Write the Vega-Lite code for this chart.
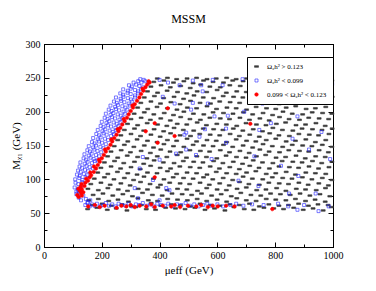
{
"$schema":"https://vega.github.io/schema/vega-lite/v6.json",
"width":289,"height":203,"autosize":"none",
"padding":{"left":44,"top":44,"right":43,"bottom":44},
"background":"white",
"title":{"text":"MSSM","font":"Liberation Serif","fontSize":12,"fontWeight":"normal","color":"black","offset":13},
"data":{"values":[
{"x":151,"y":56,"c":"A"},{"x":183,"y":58,"c":"A"},{"x":219,"y":55,"c":"A"},{"x":250,"y":57,"c":"A"},{"x":287,"y":54,"c":"A"},{"x":318,"y":59,"c":"A"},{"x":354,"y":56,"c":"A"},{"x":386,"y":55,"c":"A"},{"x":421,"y":58,"c":"A"},{"x":455,"y":57,"c":"A"},{"x":488,"y":56,"c":"A"},{"x":522,"y":58,"c":"A"},{"x":557,"y":55,"c":"A"},{"x":590,"y":57,"c":"A"},{"x":626,"y":54,"c":"A"},{"x":657,"y":59,"c":"A"},{"x":693,"y":56,"c":"A"},{"x":726,"y":55,"c":"A"},{"x":761,"y":58,"c":"A"},{"x":795,"y":57,"c":"A"},{"x":829,"y":56,"c":"A"},{"x":864,"y":58,"c":"A"},{"x":897,"y":55,"c":"A"},{"x":931,"y":57,"c":"A"},{"x":966,"y":54,"c":"A"},{"x":994,"y":59,"c":"A"},
{"x":166,"y":62,"c":"A"},{"x":201,"y":64,"c":"A"},{"x":233,"y":61,"c":"A"},{"x":270,"y":63,"c":"A"},{"x":302,"y":60,"c":"A"},{"x":337,"y":62,"c":"A"},{"x":371,"y":65,"c":"A"},{"x":404,"y":61,"c":"A"},{"x":440,"y":63,"c":"A"},{"x":472,"y":62,"c":"A"},{"x":507,"y":60,"c":"A"},{"x":540,"y":64,"c":"A"},{"x":575,"y":62,"c":"A"},{"x":609,"y":61,"c":"A"},{"x":643,"y":63,"c":"A"},{"x":676,"y":62,"c":"A"},{"x":711,"y":64,"c":"A"},{"x":745,"y":60,"c":"A"},{"x":778,"y":63,"c":"A"},{"x":813,"y":61,"c":"A"},{"x":846,"y":62,"c":"A"},{"x":881,"y":64,"c":"A"},{"x":915,"y":61,"c":"A"},{"x":948,"y":63,"c":"A"},{"x":983,"y":62,"c":"A"},
{"x":155,"y":69,"c":"A"},{"x":188,"y":71,"c":"A"},{"x":224,"y":68,"c":"A"},{"x":256,"y":70,"c":"A"},{"x":292,"y":67,"c":"A"},{"x":325,"y":72,"c":"A"},{"x":361,"y":69,"c":"A"},{"x":393,"y":68,"c":"A"},{"x":428,"y":71,"c":"A"},{"x":462,"y":70,"c":"A"},{"x":496,"y":69,"c":"A"},{"x":530,"y":71,"c":"A"},{"x":563,"y":68,"c":"A"},{"x":599,"y":70,"c":"A"},{"x":632,"y":67,"c":"A"},{"x":667,"y":72,"c":"A"},{"x":700,"y":69,"c":"A"},{"x":734,"y":68,"c":"A"},{"x":769,"y":71,"c":"A"},{"x":802,"y":70,"c":"A"},{"x":837,"y":69,"c":"A"},{"x":870,"y":71,"c":"A"},{"x":905,"y":68,"c":"A"},{"x":938,"y":70,"c":"A"},{"x":973,"y":67,"c":"A"},
{"x":170,"y":77,"c":"A"},{"x":204,"y":79,"c":"A"},{"x":238,"y":76,"c":"A"},{"x":273,"y":78,"c":"A"},{"x":306,"y":75,"c":"A"},{"x":341,"y":80,"c":"A"},{"x":375,"y":77,"c":"A"},{"x":409,"y":76,"c":"A"},{"x":443,"y":79,"c":"A"},{"x":478,"y":78,"c":"A"},{"x":511,"y":77,"c":"A"},{"x":545,"y":79,"c":"A"},{"x":580,"y":76,"c":"A"},{"x":613,"y":78,"c":"A"},{"x":648,"y":75,"c":"A"},{"x":681,"y":80,"c":"A"},{"x":716,"y":77,"c":"A"},{"x":750,"y":76,"c":"A"},{"x":784,"y":79,"c":"A"},{"x":818,"y":78,"c":"A"},{"x":852,"y":77,"c":"A"},{"x":886,"y":79,"c":"A"},{"x":920,"y":76,"c":"A"},{"x":955,"y":78,"c":"A"},{"x":989,"y":75,"c":"A"},
{"x":152,"y":86,"c":"A"},{"x":188,"y":84,"c":"A"},{"x":221,"y":87,"c":"A"},{"x":257,"y":85,"c":"A"},{"x":289,"y":83,"c":"A"},{"x":326,"y":86,"c":"A"},{"x":358,"y":85,"c":"A"},{"x":394,"y":88,"c":"A"},{"x":426,"y":84,"c":"A"},{"x":462,"y":86,"c":"A"},{"x":494,"y":85,"c":"A"},{"x":531,"y":83,"c":"A"},{"x":563,"y":87,"c":"A"},{"x":599,"y":85,"c":"A"},{"x":631,"y":84,"c":"A"},{"x":668,"y":86,"c":"A"},{"x":700,"y":88,"c":"A"},{"x":736,"y":84,"c":"A"},{"x":768,"y":85,"c":"A"},{"x":805,"y":87,"c":"A"},{"x":837,"y":83,"c":"A"},{"x":873,"y":86,"c":"A"},{"x":905,"y":85,"c":"A"},{"x":942,"y":84,"c":"A"},{"x":974,"y":87,"c":"A"},
{"x":162,"y":93,"c":"A"},{"x":197,"y":95,"c":"A"},{"x":229,"y":92,"c":"A"},{"x":266,"y":94,"c":"A"},{"x":298,"y":91,"c":"A"},{"x":334,"y":96,"c":"A"},{"x":367,"y":93,"c":"A"},{"x":403,"y":92,"c":"A"},{"x":435,"y":95,"c":"A"},{"x":471,"y":94,"c":"A"},{"x":504,"y":93,"c":"A"},{"x":540,"y":95,"c":"A"},{"x":572,"y":92,"c":"A"},{"x":608,"y":94,"c":"A"},{"x":641,"y":91,"c":"A"},{"x":677,"y":96,"c":"A"},{"x":709,"y":93,"c":"A"},{"x":745,"y":92,"c":"A"},{"x":778,"y":95,"c":"A"},{"x":814,"y":94,"c":"A"},{"x":846,"y":93,"c":"A"},{"x":882,"y":95,"c":"A"},{"x":914,"y":92,"c":"A"},{"x":951,"y":94,"c":"A"},{"x":984,"y":91,"c":"A"},
{"x":174,"y":101,"c":"A"},{"x":209,"y":103,"c":"A"},{"x":242,"y":100,"c":"A"},{"x":278,"y":102,"c":"A"},{"x":310,"y":99,"c":"A"},{"x":346,"y":104,"c":"A"},{"x":379,"y":101,"c":"A"},{"x":415,"y":100,"c":"A"},{"x":447,"y":103,"c":"A"},{"x":483,"y":102,"c":"A"},{"x":516,"y":101,"c":"A"},{"x":552,"y":103,"c":"A"},{"x":584,"y":100,"c":"A"},{"x":620,"y":102,"c":"A"},{"x":653,"y":99,"c":"A"},{"x":689,"y":104,"c":"A"},{"x":721,"y":101,"c":"A"},{"x":757,"y":100,"c":"A"},{"x":790,"y":103,"c":"A"},{"x":826,"y":102,"c":"A"},{"x":858,"y":101,"c":"A"},{"x":894,"y":103,"c":"A"},{"x":927,"y":100,"c":"A"},{"x":963,"y":102,"c":"A"},{"x":996,"y":99,"c":"A"},
{"x":186,"y":110,"c":"A"},{"x":221,"y":108,"c":"A"},{"x":254,"y":111,"c":"A"},{"x":290,"y":109,"c":"A"},{"x":322,"y":107,"c":"A"},{"x":358,"y":110,"c":"A"},{"x":391,"y":109,"c":"A"},{"x":427,"y":112,"c":"A"},{"x":459,"y":108,"c":"A"},{"x":495,"y":110,"c":"A"},{"x":528,"y":109,"c":"A"},{"x":564,"y":107,"c":"A"},{"x":596,"y":111,"c":"A"},{"x":632,"y":109,"c":"A"},{"x":665,"y":108,"c":"A"},{"x":701,"y":110,"c":"A"},{"x":733,"y":112,"c":"A"},{"x":769,"y":108,"c":"A"},{"x":802,"y":109,"c":"A"},{"x":838,"y":111,"c":"A"},{"x":870,"y":107,"c":"A"},{"x":906,"y":110,"c":"A"},{"x":939,"y":109,"c":"A"},{"x":975,"y":108,"c":"A"},
{"x":197,"y":117,"c":"A"},{"x":232,"y":119,"c":"A"},{"x":265,"y":116,"c":"A"},{"x":301,"y":118,"c":"A"},{"x":333,"y":115,"c":"A"},{"x":369,"y":120,"c":"A"},{"x":402,"y":117,"c":"A"},{"x":438,"y":116,"c":"A"},{"x":470,"y":119,"c":"A"},{"x":506,"y":118,"c":"A"},{"x":539,"y":117,"c":"A"},{"x":575,"y":119,"c":"A"},{"x":607,"y":116,"c":"A"},{"x":643,"y":118,"c":"A"},{"x":676,"y":115,"c":"A"},{"x":712,"y":120,"c":"A"},{"x":744,"y":117,"c":"A"},{"x":780,"y":116,"c":"A"},{"x":813,"y":119,"c":"A"},{"x":849,"y":118,"c":"A"},{"x":881,"y":117,"c":"A"},{"x":917,"y":119,"c":"A"},{"x":950,"y":116,"c":"A"},{"x":986,"y":118,"c":"A"},
{"x":209,"y":125,"c":"A"},{"x":244,"y":127,"c":"A"},{"x":276,"y":124,"c":"A"},{"x":313,"y":126,"c":"A"},{"x":345,"y":123,"c":"A"},{"x":381,"y":128,"c":"A"},{"x":413,"y":125,"c":"A"},{"x":450,"y":124,"c":"A"},{"x":482,"y":127,"c":"A"},{"x":518,"y":126,"c":"A"},{"x":550,"y":125,"c":"A"},{"x":587,"y":127,"c":"A"},{"x":619,"y":124,"c":"A"},{"x":655,"y":126,"c":"A"},{"x":687,"y":123,"c":"A"},{"x":724,"y":128,"c":"A"},{"x":756,"y":125,"c":"A"},{"x":792,"y":124,"c":"A"},{"x":824,"y":127,"c":"A"},{"x":861,"y":126,"c":"A"},{"x":893,"y":125,"c":"A"},{"x":929,"y":127,"c":"A"},{"x":961,"y":124,"c":"A"},{"x":996,"y":126,"c":"A"},
{"x":220,"y":134,"c":"A"},{"x":255,"y":132,"c":"A"},{"x":288,"y":135,"c":"A"},{"x":324,"y":133,"c":"A"},{"x":356,"y":131,"c":"A"},{"x":392,"y":134,"c":"A"},{"x":425,"y":133,"c":"A"},{"x":461,"y":136,"c":"A"},{"x":493,"y":132,"c":"A"},{"x":529,"y":134,"c":"A"},{"x":562,"y":133,"c":"A"},{"x":598,"y":131,"c":"A"},{"x":630,"y":135,"c":"A"},{"x":666,"y":133,"c":"A"},{"x":699,"y":132,"c":"A"},{"x":735,"y":134,"c":"A"},{"x":767,"y":136,"c":"A"},{"x":803,"y":132,"c":"A"},{"x":836,"y":133,"c":"A"},{"x":872,"y":135,"c":"A"},{"x":904,"y":131,"c":"A"},{"x":940,"y":134,"c":"A"},{"x":973,"y":133,"c":"A"},
{"x":232,"y":141,"c":"A"},{"x":267,"y":143,"c":"A"},{"x":299,"y":140,"c":"A"},{"x":336,"y":142,"c":"A"},{"x":368,"y":139,"c":"A"},{"x":404,"y":144,"c":"A"},{"x":436,"y":141,"c":"A"},{"x":473,"y":140,"c":"A"},{"x":505,"y":143,"c":"A"},{"x":541,"y":142,"c":"A"},{"x":573,"y":141,"c":"A"},{"x":610,"y":143,"c":"A"},{"x":642,"y":140,"c":"A"},{"x":678,"y":142,"c":"A"},{"x":710,"y":139,"c":"A"},{"x":747,"y":144,"c":"A"},{"x":779,"y":141,"c":"A"},{"x":815,"y":140,"c":"A"},{"x":847,"y":143,"c":"A"},{"x":884,"y":142,"c":"A"},{"x":916,"y":141,"c":"A"},{"x":952,"y":143,"c":"A"},{"x":984,"y":140,"c":"A"},
{"x":243,"y":149,"c":"A"},{"x":278,"y":151,"c":"A"},{"x":311,"y":148,"c":"A"},{"x":347,"y":150,"c":"A"},{"x":379,"y":147,"c":"A"},{"x":415,"y":152,"c":"A"},{"x":448,"y":149,"c":"A"},{"x":484,"y":148,"c":"A"},{"x":516,"y":151,"c":"A"},{"x":552,"y":150,"c":"A"},{"x":585,"y":149,"c":"A"},{"x":621,"y":151,"c":"A"},{"x":653,"y":148,"c":"A"},{"x":689,"y":150,"c":"A"},{"x":722,"y":147,"c":"A"},{"x":758,"y":152,"c":"A"},{"x":790,"y":149,"c":"A"},{"x":826,"y":148,"c":"A"},{"x":859,"y":151,"c":"A"},{"x":895,"y":150,"c":"A"},{"x":927,"y":149,"c":"A"},{"x":963,"y":151,"c":"A"},{"x":996,"y":148,"c":"A"},
{"x":255,"y":158,"c":"A"},{"x":290,"y":156,"c":"A"},{"x":322,"y":159,"c":"A"},{"x":358,"y":157,"c":"A"},{"x":391,"y":155,"c":"A"},{"x":427,"y":158,"c":"A"},{"x":459,"y":157,"c":"A"},{"x":495,"y":160,"c":"A"},{"x":528,"y":156,"c":"A"},{"x":564,"y":158,"c":"A"},{"x":596,"y":157,"c":"A"},{"x":632,"y":155,"c":"A"},{"x":665,"y":159,"c":"A"},{"x":701,"y":157,"c":"A"},{"x":733,"y":156,"c":"A"},{"x":769,"y":158,"c":"A"},{"x":802,"y":160,"c":"A"},{"x":838,"y":156,"c":"A"},{"x":870,"y":157,"c":"A"},{"x":906,"y":159,"c":"A"},{"x":939,"y":155,"c":"A"},{"x":975,"y":158,"c":"A"},
{"x":266,"y":165,"c":"A"},{"x":301,"y":167,"c":"A"},{"x":334,"y":164,"c":"A"},{"x":370,"y":166,"c":"A"},{"x":402,"y":163,"c":"A"},{"x":438,"y":168,"c":"A"},{"x":471,"y":165,"c":"A"},{"x":507,"y":164,"c":"A"},{"x":539,"y":167,"c":"A"},{"x":575,"y":166,"c":"A"},{"x":608,"y":165,"c":"A"},{"x":644,"y":167,"c":"A"},{"x":676,"y":164,"c":"A"},{"x":712,"y":166,"c":"A"},{"x":745,"y":163,"c":"A"},{"x":781,"y":168,"c":"A"},{"x":813,"y":165,"c":"A"},{"x":849,"y":164,"c":"A"},{"x":882,"y":167,"c":"A"},{"x":918,"y":166,"c":"A"},{"x":950,"y":165,"c":"A"},{"x":986,"y":167,"c":"A"},
{"x":278,"y":173,"c":"A"},{"x":313,"y":175,"c":"A"},{"x":345,"y":172,"c":"A"},{"x":381,"y":174,"c":"A"},{"x":414,"y":171,"c":"A"},{"x":450,"y":176,"c":"A"},{"x":482,"y":173,"c":"A"},{"x":518,"y":172,"c":"A"},{"x":551,"y":175,"c":"A"},{"x":587,"y":174,"c":"A"},{"x":619,"y":173,"c":"A"},{"x":655,"y":175,"c":"A"},{"x":688,"y":172,"c":"A"},{"x":724,"y":174,"c":"A"},{"x":756,"y":171,"c":"A"},{"x":792,"y":176,"c":"A"},{"x":825,"y":173,"c":"A"},{"x":861,"y":172,"c":"A"},{"x":893,"y":175,"c":"A"},{"x":929,"y":174,"c":"A"},{"x":962,"y":173,"c":"A"},{"x":997,"y":175,"c":"A"},
{"x":289,"y":182,"c":"A"},{"x":324,"y":180,"c":"A"},{"x":357,"y":183,"c":"A"},{"x":393,"y":181,"c":"A"},{"x":425,"y":179,"c":"A"},{"x":461,"y":182,"c":"A"},{"x":494,"y":181,"c":"A"},{"x":530,"y":184,"c":"A"},{"x":562,"y":180,"c":"A"},{"x":598,"y":182,"c":"A"},{"x":631,"y":181,"c":"A"},{"x":667,"y":179,"c":"A"},{"x":699,"y":183,"c":"A"},{"x":735,"y":181,"c":"A"},{"x":768,"y":180,"c":"A"},{"x":804,"y":182,"c":"A"},{"x":836,"y":184,"c":"A"},{"x":872,"y":180,"c":"A"},{"x":905,"y":181,"c":"A"},{"x":941,"y":183,"c":"A"},{"x":973,"y":179,"c":"A"},
{"x":301,"y":189,"c":"A"},{"x":336,"y":191,"c":"A"},{"x":368,"y":188,"c":"A"},{"x":404,"y":190,"c":"A"},{"x":437,"y":187,"c":"A"},{"x":473,"y":192,"c":"A"},{"x":505,"y":189,"c":"A"},{"x":541,"y":188,"c":"A"},{"x":574,"y":191,"c":"A"},{"x":610,"y":190,"c":"A"},{"x":642,"y":189,"c":"A"},{"x":678,"y":191,"c":"A"},{"x":711,"y":188,"c":"A"},{"x":747,"y":190,"c":"A"},{"x":779,"y":187,"c":"A"},{"x":815,"y":192,"c":"A"},{"x":848,"y":189,"c":"A"},{"x":884,"y":188,"c":"A"},{"x":916,"y":191,"c":"A"},{"x":952,"y":190,"c":"A"},{"x":985,"y":189,"c":"A"},
{"x":312,"y":197,"c":"A"},{"x":347,"y":199,"c":"A"},{"x":380,"y":196,"c":"A"},{"x":416,"y":198,"c":"A"},{"x":448,"y":195,"c":"A"},{"x":484,"y":200,"c":"A"},{"x":517,"y":197,"c":"A"},{"x":553,"y":196,"c":"A"},{"x":585,"y":199,"c":"A"},{"x":621,"y":198,"c":"A"},{"x":654,"y":197,"c":"A"},{"x":690,"y":199,"c":"A"},{"x":722,"y":196,"c":"A"},{"x":758,"y":198,"c":"A"},{"x":791,"y":195,"c":"A"},{"x":827,"y":200,"c":"A"},{"x":859,"y":197,"c":"A"},{"x":895,"y":196,"c":"A"},{"x":928,"y":199,"c":"A"},{"x":964,"y":198,"c":"A"},{"x":996,"y":197,"c":"A"},
{"x":324,"y":206,"c":"A"},{"x":359,"y":204,"c":"A"},{"x":391,"y":207,"c":"A"},{"x":427,"y":205,"c":"A"},{"x":460,"y":203,"c":"A"},{"x":496,"y":206,"c":"A"},{"x":528,"y":205,"c":"A"},{"x":564,"y":208,"c":"A"},{"x":597,"y":204,"c":"A"},{"x":633,"y":206,"c":"A"},{"x":665,"y":205,"c":"A"},{"x":701,"y":203,"c":"A"},{"x":734,"y":207,"c":"A"},{"x":770,"y":205,"c":"A"},{"x":802,"y":204,"c":"A"},{"x":838,"y":206,"c":"A"},{"x":871,"y":208,"c":"A"},{"x":907,"y":204,"c":"A"},{"x":939,"y":205,"c":"A"},{"x":975,"y":207,"c":"A"},
{"x":335,"y":213,"c":"A"},{"x":370,"y":215,"c":"A"},{"x":403,"y":212,"c":"A"},{"x":439,"y":214,"c":"A"},{"x":471,"y":211,"c":"A"},{"x":507,"y":216,"c":"A"},{"x":540,"y":213,"c":"A"},{"x":576,"y":212,"c":"A"},{"x":608,"y":215,"c":"A"},{"x":644,"y":214,"c":"A"},{"x":677,"y":213,"c":"A"},{"x":713,"y":215,"c":"A"},{"x":745,"y":212,"c":"A"},{"x":781,"y":214,"c":"A"},{"x":814,"y":211,"c":"A"},{"x":850,"y":216,"c":"A"},{"x":882,"y":213,"c":"A"},{"x":918,"y":212,"c":"A"},{"x":951,"y":215,"c":"A"},{"x":987,"y":214,"c":"A"},
{"x":347,"y":221,"c":"A"},{"x":382,"y":223,"c":"A"},{"x":414,"y":220,"c":"A"},{"x":450,"y":222,"c":"A"},{"x":483,"y":219,"c":"A"},{"x":519,"y":224,"c":"A"},{"x":551,"y":221,"c":"A"},{"x":587,"y":220,"c":"A"},{"x":620,"y":223,"c":"A"},{"x":656,"y":222,"c":"A"},{"x":688,"y":221,"c":"A"},{"x":724,"y":223,"c":"A"},{"x":757,"y":220,"c":"A"},{"x":793,"y":222,"c":"A"},{"x":825,"y":219,"c":"A"},{"x":861,"y":224,"c":"A"},{"x":894,"y":221,"c":"A"},{"x":930,"y":220,"c":"A"},{"x":962,"y":223,"c":"A"},{"x":997,"y":222,"c":"A"},
{"x":358,"y":230,"c":"A"},{"x":393,"y":228,"c":"A"},{"x":426,"y":231,"c":"A"},{"x":462,"y":229,"c":"A"},{"x":494,"y":227,"c":"A"},{"x":530,"y":230,"c":"A"},{"x":563,"y":229,"c":"A"},{"x":599,"y":232,"c":"A"},{"x":631,"y":228,"c":"A"},{"x":667,"y":230,"c":"A"},{"x":700,"y":229,"c":"A"},{"x":736,"y":227,"c":"A"},{"x":768,"y":231,"c":"A"},{"x":804,"y":229,"c":"A"},{"x":837,"y":228,"c":"A"},{"x":873,"y":230,"c":"A"},{"x":905,"y":232,"c":"A"},{"x":941,"y":228,"c":"A"},{"x":974,"y":229,"c":"A"},
{"x":370,"y":237,"c":"A"},{"x":405,"y":239,"c":"A"},{"x":437,"y":236,"c":"A"},{"x":473,"y":238,"c":"A"},{"x":506,"y":235,"c":"A"},{"x":542,"y":240,"c":"A"},{"x":574,"y":237,"c":"A"},{"x":610,"y":236,"c":"A"},{"x":643,"y":239,"c":"A"},{"x":679,"y":238,"c":"A"},{"x":711,"y":237,"c":"A"},{"x":747,"y":239,"c":"A"},{"x":780,"y":236,"c":"A"},{"x":816,"y":238,"c":"A"},{"x":848,"y":235,"c":"A"},{"x":884,"y":240,"c":"A"},{"x":917,"y":237,"c":"A"},{"x":953,"y":236,"c":"A"},{"x":985,"y":239,"c":"A"},
{"x":380,"y":244,"c":"A"},{"x":415,"y":246,"c":"A"},{"x":448,"y":243,"c":"A"},{"x":484,"y":245,"c":"A"},{"x":516,"y":242,"c":"A"},{"x":552,"y":246,"c":"A"},{"x":585,"y":244,"c":"A"},{"x":621,"y":243,"c":"A"},{"x":653,"y":246,"c":"A"},{"x":689,"y":245,"c":"A"},{"x":722,"y":244,"c":"A"},{"x":758,"y":246,"c":"A"},{"x":790,"y":243,"c":"A"},{"x":826,"y":245,"c":"A"},{"x":859,"y":242,"c":"A"},{"x":895,"y":246,"c":"A"},{"x":927,"y":244,"c":"A"},{"x":963,"y":243,"c":"A"},{"x":996,"y":246,"c":"A"},
{"x":392,"y":249,"c":"A"},{"x":427,"y":250,"c":"A"},{"x":459,"y":248,"c":"A"},{"x":495,"y":249,"c":"A"},{"x":528,"y":250,"c":"A"},{"x":564,"y":248,"c":"A"},{"x":596,"y":249,"c":"A"},{"x":632,"y":250,"c":"A"},{"x":665,"y":248,"c":"A"},{"x":701,"y":249,"c":"A"},{"x":733,"y":250,"c":"A"},{"x":769,"y":248,"c":"A"},{"x":802,"y":249,"c":"A"},{"x":838,"y":250,"c":"A"},{"x":870,"y":248,"c":"A"},{"x":906,"y":249,"c":"A"},{"x":939,"y":250,"c":"A"},{"x":975,"y":248,"c":"A"},
{"x":112,"y":82,"c":"B"},{"x":121,"y":80,"c":"B"},
{"x":106,"y":88,"c":"B"},{"x":118,"y":86,"c":"B"},{"x":129,"y":89,"c":"B"},
{"x":109,"y":95,"c":"B"},{"x":119,"y":93,"c":"B"},{"x":131,"y":96,"c":"B"},
{"x":108,"y":100,"c":"B"},{"x":122,"y":102,"c":"B"},{"x":133,"y":99,"c":"B"},{"x":144,"y":103,"c":"B"},
{"x":114,"y":107,"c":"B"},{"x":124,"y":105,"c":"B"},{"x":138,"y":108,"c":"B"},{"x":150,"y":106,"c":"B"},
{"x":118,"y":113,"c":"B"},{"x":127,"y":111,"c":"B"},{"x":142,"y":114,"c":"B"},{"x":153,"y":112,"c":"B"},
{"x":123,"y":119,"c":"B"},{"x":132,"y":117,"c":"B"},{"x":147,"y":120,"c":"B"},{"x":158,"y":118,"c":"B"},{"x":169,"y":116,"c":"B"},
{"x":126,"y":125,"c":"B"},{"x":141,"y":123,"c":"B"},{"x":151,"y":126,"c":"B"},{"x":166,"y":124,"c":"B"},{"x":176,"y":127,"c":"B"},
{"x":137,"y":131,"c":"B"},{"x":146,"y":129,"c":"B"},{"x":161,"y":132,"c":"B"},{"x":172,"y":130,"c":"B"},{"x":185,"y":128,"c":"B"},
{"x":140,"y":137,"c":"B"},{"x":155,"y":135,"c":"B"},{"x":165,"y":138,"c":"B"},{"x":180,"y":136,"c":"B"},{"x":191,"y":134,"c":"B"},
{"x":150,"y":143,"c":"B"},{"x":159,"y":141,"c":"B"},{"x":174,"y":144,"c":"B"},{"x":185,"y":142,"c":"B"},{"x":198,"y":140,"c":"B"},
{"x":155,"y":149,"c":"B"},{"x":170,"y":147,"c":"B"},{"x":180,"y":150,"c":"B"},{"x":195,"y":148,"c":"B"},{"x":206,"y":146,"c":"B"},
{"x":166,"y":155,"c":"B"},{"x":175,"y":153,"c":"B"},{"x":190,"y":156,"c":"B"},{"x":201,"y":154,"c":"B"},{"x":214,"y":152,"c":"B"},
{"x":170,"y":161,"c":"B"},{"x":186,"y":159,"c":"B"},{"x":196,"y":162,"c":"B"},{"x":211,"y":160,"c":"B"},{"x":222,"y":158,"c":"B"},
{"x":181,"y":167,"c":"B"},{"x":191,"y":165,"c":"B"},{"x":206,"y":168,"c":"B"},{"x":217,"y":166,"c":"B"},{"x":232,"y":164,"c":"B"},{"x":242,"y":167,"c":"B"},
{"x":186,"y":173,"c":"B"},{"x":202,"y":171,"c":"B"},{"x":212,"y":174,"c":"B"},{"x":227,"y":172,"c":"B"},{"x":238,"y":170,"c":"B"},{"x":250,"y":173,"c":"B"},
{"x":196,"y":179,"c":"B"},{"x":206,"y":177,"c":"B"},{"x":221,"y":180,"c":"B"},{"x":232,"y":178,"c":"B"},{"x":247,"y":176,"c":"B"},{"x":258,"y":179,"c":"B"},
{"x":200,"y":185,"c":"B"},{"x":216,"y":183,"c":"B"},{"x":226,"y":186,"c":"B"},{"x":241,"y":184,"c":"B"},{"x":252,"y":182,"c":"B"},{"x":265,"y":185,"c":"B"},
{"x":210,"y":191,"c":"B"},{"x":220,"y":189,"c":"B"},{"x":235,"y":192,"c":"B"},{"x":246,"y":190,"c":"B"},{"x":261,"y":188,"c":"B"},{"x":272,"y":191,"c":"B"},
{"x":214,"y":197,"c":"B"},{"x":230,"y":195,"c":"B"},{"x":240,"y":198,"c":"B"},{"x":255,"y":196,"c":"B"},{"x":266,"y":194,"c":"B"},{"x":280,"y":197,"c":"B"},
{"x":224,"y":203,"c":"B"},{"x":234,"y":201,"c":"B"},{"x":249,"y":204,"c":"B"},{"x":260,"y":202,"c":"B"},{"x":275,"y":200,"c":"B"},{"x":288,"y":203,"c":"B"},
{"x":230,"y":209,"c":"B"},{"x":246,"y":207,"c":"B"},{"x":256,"y":210,"c":"B"},{"x":271,"y":208,"c":"B"},{"x":282,"y":206,"c":"B"},{"x":297,"y":209,"c":"B"},
{"x":242,"y":215,"c":"B"},{"x":252,"y":213,"c":"B"},{"x":267,"y":216,"c":"B"},{"x":278,"y":214,"c":"B"},{"x":293,"y":212,"c":"B"},{"x":305,"y":215,"c":"B"},
{"x":249,"y":221,"c":"B"},{"x":265,"y":219,"c":"B"},{"x":275,"y":222,"c":"B"},{"x":290,"y":220,"c":"B"},{"x":301,"y":218,"c":"B"},{"x":315,"y":221,"c":"B"},
{"x":264,"y":227,"c":"B"},{"x":274,"y":225,"c":"B"},{"x":289,"y":228,"c":"B"},{"x":300,"y":226,"c":"B"},{"x":315,"y":224,"c":"B"},{"x":325,"y":227,"c":"B"},
{"x":274,"y":233,"c":"B"},{"x":290,"y":231,"c":"B"},{"x":300,"y":234,"c":"B"},{"x":315,"y":232,"c":"B"},{"x":326,"y":230,"c":"B"},{"x":336,"y":233,"c":"B"},
{"x":294,"y":239,"c":"B"},{"x":304,"y":237,"c":"B"},{"x":319,"y":240,"c":"B"},{"x":330,"y":238,"c":"B"},{"x":343,"y":236,"c":"B"},
{"x":310,"y":243,"c":"B"},{"x":326,"y":245,"c":"B"},{"x":337,"y":243,"c":"B"},{"x":350,"y":245,"c":"B"},
{"x":333,"y":248,"c":"B"},{"x":345,"y":247,"c":"B"},
{"x":112,"y":78,"c":"B"},{"x":120,"y":73,"c":"B"},{"x":128,"y":69,"c":"B"},{"x":136,"y":76,"c":"B"},{"x":145,"y":71,"c":"B"},{"x":152,"y":66,"c":"B"},{"x":160,"y":69,"c":"B"},{"x":117,"y":84,"c":"B"},{"x":125,"y":79,"c":"B"},
{"x":143,"y":62,"c":"B"},{"x":150,"y":65,"c":"B"},{"x":158,"y":60,"c":"B"},{"x":166,"y":63,"c":"B"},{"x":175,"y":61,"c":"B"},{"x":183,"y":64,"c":"B"},{"x":195,"y":60,"c":"B"},{"x":205,"y":62,"c":"B"},{"x":214,"y":65,"c":"B"},{"x":225,"y":61,"c":"B"},{"x":236,"y":63,"c":"B"},{"x":248,"y":60,"c":"B"},{"x":258,"y":64,"c":"B"},{"x":270,"y":62,"c":"B"},{"x":282,"y":61,"c":"B"},{"x":293,"y":64,"c":"B"},{"x":305,"y":60,"c":"B"},{"x":318,"y":63,"c":"B"},{"x":330,"y":62,"c":"B"},{"x":342,"y":65,"c":"B"},{"x":356,"y":61,"c":"B"},{"x":368,"y":63,"c":"B"},{"x":380,"y":60,"c":"B"},{"x":392,"y":64,"c":"B"},{"x":405,"y":62,"c":"B"},{"x":418,"y":61,"c":"B"},{"x":430,"y":64,"c":"B"},{"x":445,"y":60,"c":"B"},{"x":460,"y":63,"c":"B"},{"x":475,"y":62,"c":"B"},{"x":490,"y":65,"c":"B"},{"x":505,"y":61,"c":"B"},{"x":520,"y":63,"c":"B"},{"x":535,"y":60,"c":"B"},{"x":550,"y":62,"c":"B"},{"x":565,"y":64,"c":"B"},{"x":580,"y":61,"c":"B"},{"x":600,"y":63,"c":"B"},{"x":620,"y":60,"c":"B"},{"x":645,"y":62,"c":"B"},{"x":665,"y":64,"c":"B"},{"x":690,"y":61,"c":"B"},{"x":720,"y":63,"c":"B"},{"x":760,"y":62,"c":"B"},{"x":810,"y":64,"c":"B"},{"x":845,"y":60,"c":"B"},{"x":900,"y":62,"c":"B"},{"x":950,"y":53,"c":"B"},{"x":985,"y":60,"c":"B"},
{"x":515,"y":246,"c":"B"},{"x":544,"y":239,"c":"B"},{"x":584,"y":247,"c":"B"},{"x":549,"y":230,"c":"B"},{"x":515,"y":213,"c":"B"},{"x":567,"y":212,"c":"B"},{"x":509,"y":203,"c":"B"},{"x":687,"y":248,"c":"B"},{"x":590,"y":193,"c":"B"},{"x":636,"y":194,"c":"B"},{"x":693,"y":200,"c":"B"},{"x":779,"y":215,"c":"B"},{"x":756,"y":212,"c":"B"},{"x":877,"y":193,"c":"B"},{"x":785,"y":183,"c":"B"},{"x":745,"y":173,"c":"B"},{"x":492,"y":169,"c":"B"},{"x":557,"y":174,"c":"B"},{"x":538,"y":163,"c":"B"},{"x":630,"y":154,"c":"B"},{"x":492,"y":144,"c":"B"},{"x":526,"y":136,"c":"B"},{"x":580,"y":130,"c":"B"},{"x":728,"y":134,"c":"B"},{"x":917,"y":144,"c":"B"},{"x":969,"y":232,"c":"B"},{"x":997,"y":241,"c":"B"},{"x":673,"y":98,"c":"B"},{"x":742,"y":90,"c":"B"},{"x":940,"y":79,"c":"B"},{"x":848,"y":79,"c":"B"},{"x":877,"y":55,"c":"B"},
{"x":400,"y":247,"c":"B"},{"x":429,"y":243,"c":"B"},{"x":469,"y":239,"c":"B"},{"x":618,"y":239,"c":"B"},{"x":411,"y":222,"c":"B"},{"x":452,"y":212,"c":"B"},{"x":630,"y":175,"c":"B"},{"x":486,"y":166,"c":"B"},{"x":457,"y":138,"c":"B"},{"x":400,"y":129,"c":"B"},{"x":342,"y":133,"c":"B"},{"x":331,"y":116,"c":"B"},{"x":377,"y":99,"c":"B"},{"x":423,"y":87,"c":"B"},{"x":314,"y":87,"c":"B"},{"x":325,"y":72,"c":"B"},{"x":400,"y":69,"c":"B"},{"x":434,"y":84,"c":"B"},{"x":820,"y":120,"c":"B"},{"x":880,"y":105,"c":"B"},{"x":960,"y":170,"c":"B"},{"x":905,"y":220,"c":"B"},{"x":830,"y":240,"c":"B"},{"x":990,"y":130,"c":"B"},{"x":860,"y":160,"c":"B"},
{"x":120,"y":74,"c":"C"},{"x":115,"y":77,"c":"C"},{"x":131,"y":76,"c":"C"},{"x":128,"y":80,"c":"C"},{"x":124,"y":83,"c":"C"},{"x":136,"y":81,"c":"C"},{"x":119,"y":86,"c":"C"},{"x":131,"y":85,"c":"C"},{"x":127,"y":89,"c":"C"},{"x":140,"y":90,"c":"C"},{"x":130,"y":93,"c":"C"},{"x":143,"y":95,"c":"C"},{"x":152,"y":98,"c":"C"},{"x":146,"y":101,"c":"C"},{"x":158,"y":103,"c":"C"},{"x":163,"y":106,"c":"C"},{"x":160,"y":110,"c":"C"},{"x":172,"y":111,"c":"C"},{"x":180,"y":116,"c":"C"},{"x":173,"y":119,"c":"C"},{"x":186,"y":121,"c":"C"},{"x":193,"y":126,"c":"C"},{"x":190,"y":129,"c":"C"},{"x":200,"y":131,"c":"C"},{"x":207,"y":136,"c":"C"},{"x":214,"y":141,"c":"C"},{"x":211,"y":144,"c":"C"},{"x":222,"y":146,"c":"C"},{"x":230,"y":151,"c":"C"},{"x":236,"y":156,"c":"C"},{"x":233,"y":159,"c":"C"},{"x":243,"y":161,"c":"C"},{"x":251,"y":166,"c":"C"},{"x":258,"y":171,"c":"C"},{"x":255,"y":174,"c":"C"},{"x":264,"y":176,"c":"C"},{"x":271,"y":181,"c":"C"},{"x":279,"y":186,"c":"C"},{"x":276,"y":189,"c":"C"},{"x":287,"y":191,"c":"C"},{"x":293,"y":196,"c":"C"},{"x":300,"y":201,"c":"C"},{"x":308,"y":206,"c":"C"},{"x":306,"y":209,"c":"C"},{"x":314,"y":211,"c":"C"},{"x":322,"y":216,"c":"C"},{"x":330,"y":221,"c":"C"},{"x":336,"y":226,"c":"C"},{"x":344,"y":231,"c":"C"},{"x":341,"y":234,"c":"C"},{"x":351,"y":236,"c":"C"},{"x":357,"y":240,"c":"C"},{"x":365,"y":243,"c":"C"},{"x":362,"y":245,"c":"C"},
{"x":428,"y":205,"c":"C"},{"x":452,"y":164,"c":"C"},{"x":393,"y":154,"c":"C"},{"x":383,"y":103,"c":"C"},{"x":352,"y":171,"c":"C"},{"x":383,"y":183,"c":"C"},{"x":714,"y":182,"c":"C"},{"x":790,"y":56,"c":"C"},
{"x":153,"y":60,"c":"C"},{"x":176,"y":62,"c":"C"},{"x":193,"y":59,"c":"C"},{"x":210,"y":61,"c":"C"},{"x":251,"y":58,"c":"C"},{"x":268,"y":61,"c":"C"},{"x":285,"y":60,"c":"C"},{"x":300,"y":62,"c":"C"},{"x":314,"y":59,"c":"C"},{"x":331,"y":61,"c":"C"},{"x":354,"y":60,"c":"C"},{"x":371,"y":63,"c":"C"},{"x":383,"y":59,"c":"C"},{"x":411,"y":61,"c":"C"},{"x":440,"y":60,"c":"C"},{"x":452,"y":62,"c":"C"},{"x":471,"y":59,"c":"C"},{"x":498,"y":61,"c":"C"},{"x":527,"y":60,"c":"C"},{"x":544,"y":62,"c":"C"},{"x":567,"y":59,"c":"C"},{"x":584,"y":61,"c":"C"},{"x":601,"y":60,"c":"C"},{"x":630,"y":61,"c":"C"},{"x":659,"y":60,"c":"C"}
]},
"layer":[
{"mark":{"type":"point","size":25,"strokeWidth":0.6,"opacity":1},
"encoding":{
"x":{"field":"x","type":"quantitative","scale":{"domain":[0,1000],"nice":false},
"axis":{"orient":"bottom","values":[0,100,200,300,400,500,600,700,800,900,1000],"labelExpr":"datum.value % 200 == 0 ? format(datum.value, 'd') : ''","tickSize":{"condition":{"test":"datum.value % 200 == 0","value":-5},"value":-3},"labelPadding":8,"title":"μeff (GeV)","titlePadding":2}},
"y":{"field":"y","type":"quantitative","scale":{"domain":[0,300],"nice":false},
"axis":{"orient":"left","values":[0,25,50,75,100,125,150,175,200,225,250,275,300],"labelExpr":"datum.value % 50 == 0 ? format(datum.value, 'd') : ''","tickSize":{"condition":{"test":"datum.value % 50 == 0","value":-5},"value":-3},"labelPadding":9,"title":"Mᵪ₁ (GeV)","titlePadding":4}},
"shape":{"field":"c","type":"nominal","scale":{"domain":["A","B","C"],"range":["M-0.8,-0.32H0.8V0.32H-0.8Z","M-0.6,-0.6H0.6V0.6H-0.6Z","M0.7,0A0.7,0.7 0 1,1 -0.7,0A0.7,0.7 0 1,1 0.7,0Z"]},
"legend":{"title":null,"orient":"none","legendX":203,"legendY":13,"labelExpr":"datum.value == 'A' ? 'Ωᵪh² > 0.123' : datum.value == 'B' ? 'Ωᵪh² < 0.099' : '0.099 < Ωᵪh² < 0.123'"}},
"stroke":{"field":"c","type":"nominal","scale":{"domain":["A","B","C"],"range":["#3a3a3a","#2424ff","red"]},
"legend":{"title":null,"orient":"none","legendX":203,"legendY":13,"labelExpr":"datum.value == 'A' ? 'Ωᵪh² > 0.123' : datum.value == 'B' ? 'Ωᵪh² < 0.099' : '0.099 < Ωᵪh² < 0.123'"}},
"fill":{"field":"c","type":"nominal","scale":{"domain":["A","B","C"],"range":["#3a3a3a","transparent","red"]},
"legend":{"title":null,"orient":"none","legendX":203,"legendY":13,"labelExpr":"datum.value == 'A' ? 'Ωᵪh² > 0.123' : datum.value == 'B' ? 'Ωᵪh² < 0.099' : '0.099 < Ωᵪh² < 0.123'"}}
}},
{"mark":{"type":"point","opacity":0},
"encoding":{
"x":{"field":"x","type":"quantitative","axis":{"orient":"top","values":[0,100,200,300,400,500,600,700,800,900,1000],"labels":false,"title":null,"tickSize":{"condition":{"test":"datum.value % 200 == 0","value":-5},"value":-3}}},
"y":{"field":"y","type":"quantitative","axis":{"orient":"right","values":[0,25,50,75,100,125,150,175,200,225,250,275,300],"labels":false,"title":null,"tickSize":{"condition":{"test":"datum.value % 50 == 0","value":-5},"value":-3}}}
}}
],
"resolve":{"axis":{"x":"independent","y":"independent"}},
"config":{
"view":{"stroke":"black","strokeWidth":1},
"axis":{"grid":false,"domainColor":"black","tickColor":"black","labelColor":"black","titleColor":"black","labelFont":"Liberation Serif","labelFontSize":10,"titleFont":"Liberation Serif","titleFontSize":11,"titleFontWeight":"normal","labelFlush":false,"labelOverlap":false,"tickWidth":1,"domainWidth":1},
"legend":{"labelFont":"Liberation Serif","labelFontSize":7,"labelColor":"black","strokeColor":"black","fillColor":"white","padding":6,"rowPadding":6,"symbolSize":25,"labelOffset":7,"symbolStrokeWidth":0.6}
}
}
